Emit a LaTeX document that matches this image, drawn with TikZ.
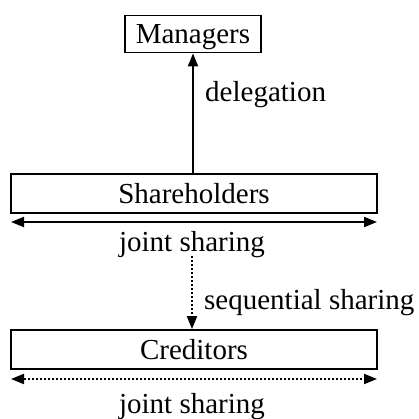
\documentclass[tikz,border=0pt]{standalone}
\usepackage{fontspec}
\setmainfont{Liberation Serif}
\usetikzlibrary{arrows.meta}
\begin{document}
\begin{tikzpicture}[x=1pt,y=-1pt,
  every node/.style={font=\fontsize{29}{34}\selectfont},
  boxnode/.style={draw,line width=1.8pt,inner sep=0pt,text depth=0pt},
  lbl/.style={inner sep=0pt},
  arr/.style={line width=2pt,-{Triangle[length=13pt,width=10pt]}},
  darr/.style={line width=2pt,{Triangle[length=13pt,width=10pt]}-{Triangle[length=13pt,width=10pt]}},
  dotline/.style={dash pattern=on 2pt off 2pt}]
\useasboundingbox (0,0) rectangle (418,419);
\node[boxnode,minimum width=136pt,minimum height=37pt] (mg) at (193,34) {Managers};
\node[boxnode,minimum width=366pt,minimum height=39pt] (sh) at (194,193.5) {Shareholders};
\node[boxnode,minimum width=366pt,minimum height=39pt] (cr) at (194,349.5) {Creditors};
\draw[arr] (mg.south |- sh.north) -- (mg.south);
\node[lbl,anchor=west] (dl) at (205,95) {delegation};
\coordinate (j1l) at (11,222);
\coordinate (j1r) at (377,222);
\draw[darr] (j1l) -- (j1r);
\node[lbl] (j1) at (192,245) {joint sharing};
\coordinate (sq) at (192,256);
\draw[arr,dotline] (sq) -- (sq |- cr.north);
\node[lbl,anchor=west] (sl) at (204,303) {sequential sharing};
\coordinate (j2l) at (11,379);
\coordinate (j2r) at (377,379);
\draw[darr,dotline] (j2l) -- (j2r);
\node[lbl] (j2) at (192,407) {joint sharing};
\end{tikzpicture}
\end{document}
